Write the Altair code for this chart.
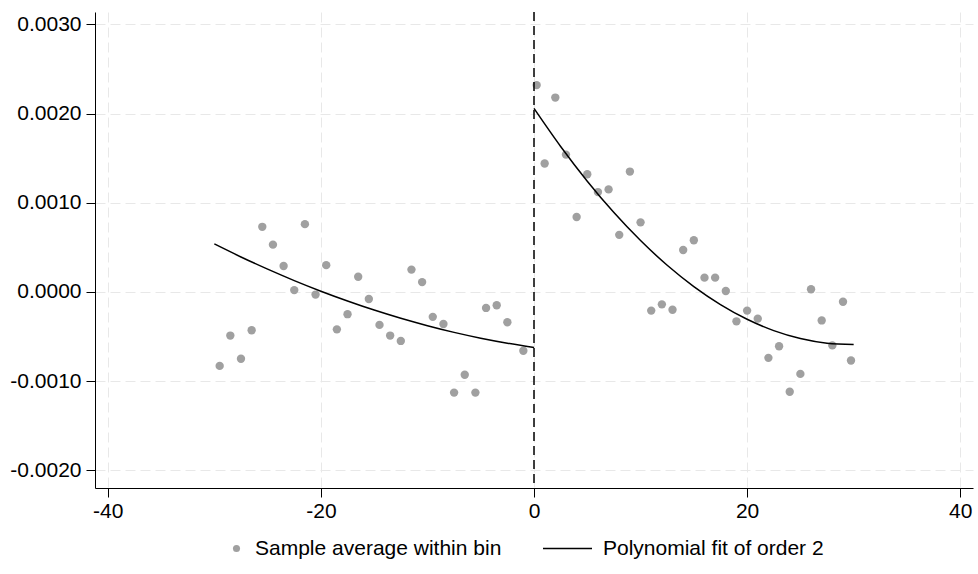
import altair as alt
import pandas as pd

# Bin means of the outcome, left of the cutoff
left_x = [-29.5, -28.5, -27.5, -26.5, -25.5, -24.5, -23.5, -22.5, -21.5, -20.5,
          -19.5, -18.5, -17.5, -16.5, -15.5, -14.5, -13.5, -12.5, -11.5, -10.5,
          -9.5, -8.5, -7.5, -6.5, -5.5, -4.5, -3.5, -2.5, -1.0]
left_y = [-0.00083, -0.00049, -0.00075, -0.00043, 0.00073, 0.00053, 0.00029, 0.00002, 0.00076, -0.00003,
          0.00030, -0.00042, -0.00025, 0.00017, -0.00008, -0.00037, -0.00049, -0.00055, 0.00025, 0.00011,
          -0.00028, -0.00036, -0.00113, -0.00093, -0.00113, -0.00018, -0.00015, -0.00034, -0.00066]

# Bin means of the outcome, right of the cutoff
right_x = [0.25, 1, 2, 3, 4, 5, 6, 7, 8, 9, 10, 11, 12, 13, 14, 15, 16, 17, 18, 19,
           20, 21, 22, 23, 24, 25, 26, 27, 28, 29, 29.75]
right_y = [0.00232, 0.00144, 0.00218, 0.00154, 0.00084, 0.00132, 0.00112, 0.00115, 0.00064, 0.00135,
           0.00078, -0.00021, -0.00014, -0.00020, 0.00047, 0.00058, 0.00016, 0.00016, 0.00001, -0.00033,
           -0.00021, -0.00030, -0.00074, -0.00061, -0.00112, -0.00092, 0.00003, -0.00032, -0.00060, -0.00011,
           -0.00077]

# Second-order polynomial fit on each side of the cutoff
fit_left_x = [-30, -27.5, -25, -22.5, -20, -17.5, -15, -12.5, -10, -7.5, -5, -2.5, 0]
fit_left_y = [0.000538, 0.000392, 0.000255, 0.000127, 0.000008, -0.000102, -0.000204,
              -0.000296, -0.000379, -0.000454, -0.000519, -0.000575, -0.000623]
fit_right_x = [0, 2.5, 5, 7.5, 10, 12.5, 15, 17.5, 20, 22.5, 25, 27.5, 30]
fit_right_y = [0.002058, 0.001631, 0.001242, 0.000890, 0.000576, 0.000299, 0.000060,
               -0.000142, -0.000307, -0.000434, -0.000523, -0.000575, -0.000590]

x_ticks = [-40, -20, 0, 20, 40]
y_ticks = [-0.002, -0.001, 0.0, 0.001, 0.002, 0.003]

SCATTER_LABEL = "Sample average within bin"
FIT_LABEL = "Polynomial fit of order 2"
FONT = "Liberation Sans"
FONT_SIZE = 21

bins = pd.DataFrame({
    "x": left_x + right_x,
    "y": left_y + right_y,
    "series": SCATTER_LABEL,
})
fit = pd.DataFrame({
    "x": fit_left_x + fit_right_x,
    "y": fit_left_y + fit_right_y,
    "side": ["left"] * len(fit_left_x) + ["right"] * len(fit_right_x),
    "series": FIT_LABEL,
})
cutoff = pd.DataFrame({"x": [0]})

x_scale = alt.Scale(domain=[-41.2, 41.2], nice=False, zero=False)
y_scale = alt.Scale(domain=[-0.0022, 0.00314], nice=False, zero=False)

x_axis = alt.Axis(values=x_ticks, title=None, labelFontSize=FONT_SIZE, labelFont=FONT,
                  labelColor="black", tickSize=9, tickColor="black", domainColor="black",
                  labelPadding=3, grid=True, gridColor="#e8e8e8", gridDash=[10, 5],
                  labelExpr="replace(format(datum.value, 'd'), '\u2212', '-')")
y_axis = alt.Axis(values=y_ticks, title=None, labelFontSize=FONT_SIZE, labelFont=FONT,
                  labelColor="black", tickSize=9, tickColor="black", domainColor="black",
                  labelPadding=5, grid=True, gridColor="#e8e8e8", gridDash=[10, 5],
                  labelExpr="replace(format(datum.value, '.4f'), '\u2212', '-')")

points = alt.Chart(bins).mark_point(filled=True, size=70, opacity=1).encode(
    x=alt.X("x:Q", scale=x_scale, axis=x_axis),
    y=alt.Y("y:Q", scale=y_scale, axis=y_axis),
    color=alt.Color(
        "series:N",
        scale=alt.Scale(domain=[SCATTER_LABEL], range=["#a0a0a0"]),
        legend=alt.Legend(title=None, orient="none", legendX=131, legendY=526,
                          direction="horizontal", symbolType="circle", symbolSize=50,
                          labelFontSize=FONT_SIZE, labelFont=FONT, labelColor="black",
                          labelOffset=8, labelLimit=500, padding=0, symbolOpacity=1),
    ),
)

lines = alt.Chart(fit).mark_line(strokeWidth=1.5, interpolate="monotone").encode(
    x="x:Q",
    y="y:Q",
    detail="side:N",
    stroke=alt.Stroke(
        "series:N",
        scale=alt.Scale(domain=[FIT_LABEL], range=["black"]),
        legend=alt.Legend(title=None, orient="none", legendX=447, legendY=511,
                          direction="horizontal", symbolType="stroke", symbolSize=2401,
                          symbolStrokeWidth=1.5, labelFontSize=FONT_SIZE, labelFont=FONT,
                          labelColor="black", labelOffset=10, labelLimit=500, padding=0),
    ),
)

rule = alt.Chart(cutoff).mark_rule(color="black", strokeWidth=1.5, strokeDash=[9, 5]).encode(
    x="x:Q"
)

chart = alt.layer(points, lines, rule).resolve_scale(color="independent").properties(
    width=878,
    height=476,
    autosize=alt.AutoSizeParams(type="none"),
    padding={"left": 95, "top": 12, "right": 5, "bottom": 86},
    background="white",
).configure_view(stroke=None)

chart.save("out.html", embed_options={"renderer": "svg", "actions": False})
